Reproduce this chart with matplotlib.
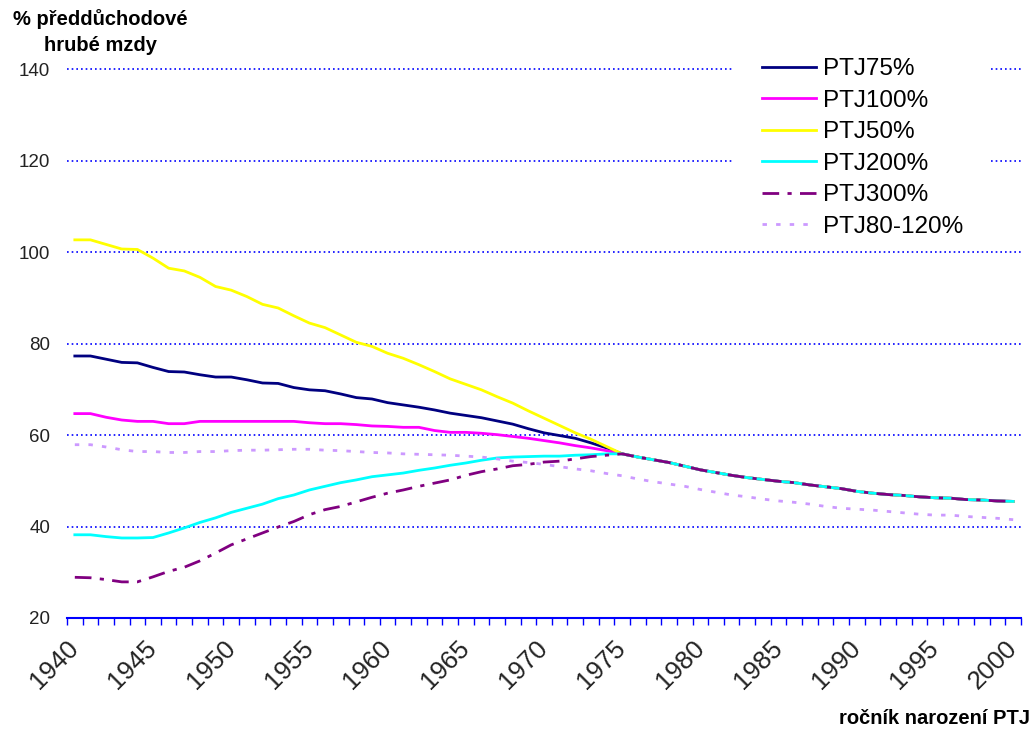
import numpy as np
import matplotlib
matplotlib.use("Agg")
import matplotlib.pyplot as plt
from matplotlib.patches import Rectangle

plt.rcParams['font.family'] = ['Liberation Sans', 'DejaVu Sans']

years = np.arange(1940, 2001)

# společný průběh všech scénářů od 1976
tail_1976 = [55.2, 54.6, 54.0, 53.2, 52.4, 51.8, 51.2, 50.7, 50.3, 49.9,
             49.6, 49.1, 48.7, 48.3, 47.7, 47.3, 47.0, 46.8, 46.5, 46.3,
             46.2, 45.9, 45.8, 45.6, 45.5]

ptj75 = [77.3, 77.3, 76.6, 75.9, 75.8, 74.8, 73.9, 73.8, 73.2, 72.7,
         72.7, 72.1, 71.4, 71.3, 70.4, 69.9, 69.7, 69.0, 68.2, 67.9,
         67.1, 66.6, 66.1, 65.5, 64.8, 64.3, 63.8, 63.1, 62.4, 61.4,
         60.5, 59.9, 59.3, 58.3, 57.2, 55.9] + tail_1976
ptj100 = [64.7, 64.7, 63.9, 63.3, 63.0, 63.0, 62.5, 62.5, 63.0, 63.0,
          63.0, 63.0, 63.0, 63.0, 63.0, 62.7, 62.5, 62.5, 62.3, 62.0,
          61.9, 61.7, 61.7, 61.0, 60.6, 60.6, 60.4, 60.1, 59.7, 59.3,
          58.8, 58.3, 57.7, 57.2, 56.6, 55.9] + tail_1976
ptj50 = [102.7, 102.7, 101.7, 100.7, 100.6, 98.7, 96.5, 95.9, 94.5, 92.5,
         91.7, 90.3, 88.6, 87.8, 86.1, 84.5, 83.5, 81.9, 80.3, 79.4,
         77.9, 76.8, 75.4, 73.9, 72.3, 71.1, 69.9, 68.4, 67.0, 65.3,
         63.7, 62.1, 60.5, 59.1, 57.5, 55.9] + tail_1976
ptj200 = [38.2, 38.2, 37.8, 37.5, 37.5, 37.6, 38.6, 39.7, 40.9, 41.9,
          43.1, 44.0, 44.9, 46.1, 46.9, 48.0, 48.8, 49.6, 50.2, 50.9,
          51.3, 51.7, 52.3, 52.8, 53.4, 53.9, 54.5, 55.0, 55.2, 55.3,
          55.4, 55.4, 55.6, 55.7, 55.9, 55.9] + tail_1976
ptj300 = [28.9, 28.8, 28.4, 27.9, 27.9, 29.0, 30.2, 31.1, 32.5, 34.2,
          36.0, 37.3, 38.6, 39.9, 41.1, 42.6, 43.7, 44.4, 45.4, 46.4,
          47.3, 48.0, 48.8, 49.5, 50.2, 51.2, 52.0, 52.6, 53.3, 53.6,
          54.1, 54.3, 54.8, 55.3, 55.6, 55.9] + tail_1976
ptj80_120 = [57.9, 57.9, 57.4, 56.8, 56.4, 56.4, 56.2, 56.2, 56.4, 56.4,
             56.6, 56.7, 56.7, 56.8, 56.9, 56.9, 56.7, 56.6, 56.4, 56.2,
             56.1, 55.9, 55.8, 55.7, 55.6, 55.4, 55.2, 54.8, 54.3, 54.0,
             53.6, 53.1, 52.6, 52.2, 51.6, 51.1, 50.4, 49.8, 49.3, 48.8,
             48.1, 47.5, 46.9, 46.5, 46.0, 45.6, 45.3, 44.9, 44.4, 44.0,
             43.8, 43.6, 43.3, 43.0, 42.7, 42.5, 42.5, 42.2, 42.0, 41.8,
             41.5]

series = [
    ('PTJ75%', ptj75, '#000080', '-'),
    ('PTJ100%', ptj100, '#ff00ff', '-'),
    ('PTJ50%', ptj50, '#ffff00', '-'),
    ('PTJ200%', ptj200, '#00ffff', '-'),
    ('PTJ300%', ptj300, '#800080', (0, (6, 3, 1.5, 3))),
    ('PTJ80-120%', ptj80_120, '#cc99ff', (0, (1.6, 3.3))),
]

fig = plt.figure(figsize=(10.34, 7.31), dpi=100)
ax = fig.add_axes([67/1034, 1 - 618/731, (1021 - 67)/1034, (618 - 69.3)/731])

for i, (name, vals, col, ls) in enumerate(series):
    ax.plot(years, vals, color=col, linestyle=ls, linewidth=2, label=name, zorder=3 + i)

ax.set_xlim(1939.5, 2000.5)
ax.set_ylim(20, 140)

# osa y
ax.set_yticks(np.arange(20, 141, 20))
ax.tick_params(axis='y', length=0, pad=12, labelsize=13.5, labelcolor='#222222')
ax.yaxis.grid(True, color='#0000ff', linestyle=(0, (1, 1.8)), linewidth=1.2)
for gl in ax.get_ygridlines():
    gl.set_clip_on(False)
ax.set_axisbelow(True)

# osa x - kategorie
ax.set_xticks(np.arange(1940, 2001, 5))
ax.set_xticks(np.arange(1939.5, 2001, 1), minor=True)
ax.tick_params(axis='x', which='major', length=0, pad=19, labelsize=18.5, labelcolor='#222222')
ax.tick_params(axis='x', which='minor', length=5, width=1, color='#0000ff', direction='out')
for lab in ax.get_xticklabels():
    lab.set_rotation(45)
    lab.set_ha('right')
    lab.set_va('center')
    lab.set_rotation_mode('anchor')

for s in ['top', 'right', 'left']:
    ax.spines[s].set_visible(False)
ax.spines['bottom'].set_color('#0000ff')
ax.spines['bottom'].set_linewidth(1.5)

fig.text(100/1034, 1 - 32/731, '% předdůchodové\nhrubé mzdy', ha='center', va='center',
         fontsize=14.5, fontweight='bold', linespacing=1.5)
fig.text(1030/1034, 1 - 718/731, 'ročník narození PTJ', ha='right', va='center',
         fontsize=14.5, fontweight='bold')

# bílé pozadí legendy (překrývá mřížku)
ax.add_patch(Rectangle((733/1034, 1 - 243/731), (988 - 733)/1034, (243 - 40)/731,
                       transform=fig.transFigure, facecolor='white', edgecolor='none',
                       zorder=1, clip_on=False))

leg = ax.legend(loc='upper left', bbox_to_anchor=(733/1034, 1 - 29/731),
                bbox_transform=fig.transFigure, fontsize=17.5, frameon=False,
                handlelength=2.2, handletextpad=0.3, labelspacing=0.39,
                borderpad=1.2, borderaxespad=0)
leg.set_zorder(20)

fig.savefig('out.png', dpi=100)
